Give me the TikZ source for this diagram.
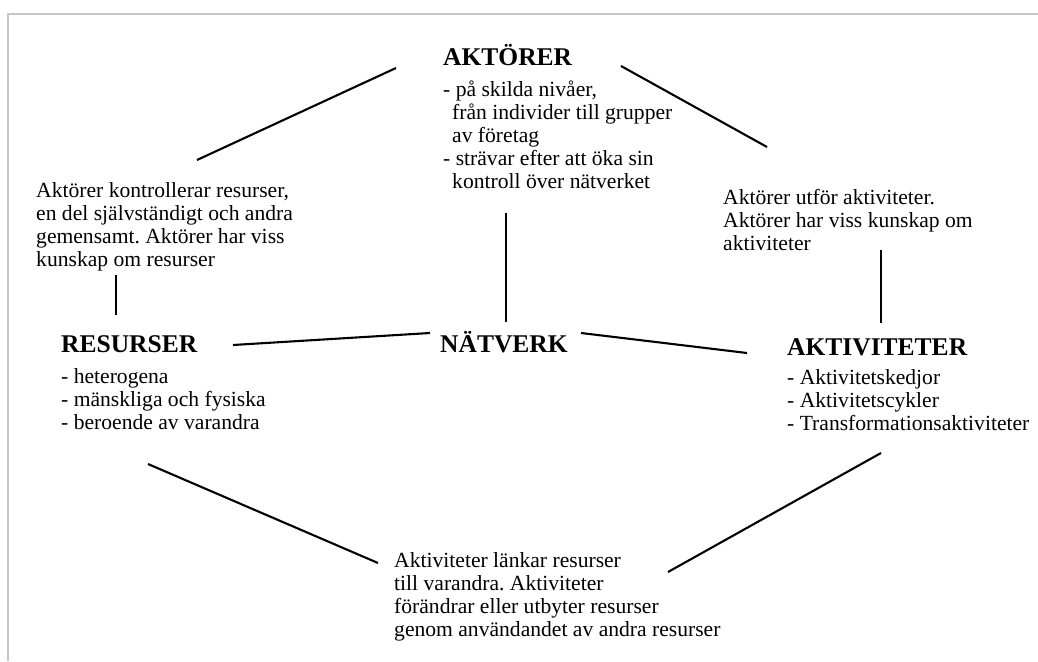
\documentclass[tikz,border=0pt]{standalone}
\usepackage{fontspec}
\setmainfont{Liberation Serif}
\usepackage{tikz}
\usetikzlibrary{calc}
\frenchspacing

\begin{document}
\begin{tikzpicture}[x=1pt,y=-1pt]
\useasboundingbox (0,0) rectangle (1038,661);
\draw[black!22, line width=1.5pt] (1038,14) -- (8,14) -- (8,661);

% nodes sit on the baseline of their last line
\begin{scope}[every node/.style={inner sep=0pt, anchor=base west, align=left,
                                 font=\fontsize{21.6}{23}\selectfont}]
  \node[font=\fontsize{25.5}{30}\selectfont\bfseries] (akt) at (443,66) {AKTÖRER};
  \node (aktl) at (443,188) {- på skilda nivåer,\\\hspace*{9pt}från individer till grupper\\\hspace*{9pt}av företag\\- strävar efter att öka sin\\\hspace*{9pt}kontroll över nätverket};
  \node (ar) at (36,266) {Aktörer kontrollerar resurser,\\en del självständigt och andra\\gemensamt. Aktörer har viss\\kunskap om resurser};
  \node (aa) at (723,250) {Aktörer utför aktiviteter.\\Aktörer har viss kunskap om\\aktiviteter};
  \node[font=\fontsize{25.5}{30}\selectfont\bfseries] (res) at (61,352) {RESURSER};
  \node (resl) at (61,429) {- heterogena\\- mänskliga och fysiska\\- beroende av varandra};
  \node[font=\fontsize{25.5}{30}\selectfont\bfseries] (nat) at (440,352) {NÄTVERK};
  \node[font=\fontsize{25.5}{30}\selectfont\bfseries] (act) at (787,355) {AKTIVITETER};
  \node (actl) at (787,430) {- Aktivitetskedjor\\- Aktivitetscykler\\- Transformationsaktiviteter};
  \node (ra) at (394,636) {Aktiviteter länkar resurser\\till varandra. Aktiviteter\\förändrar eller utbyter resurser\\genom användandet av andra resurser};
\end{scope}

\begin{scope}[line width=2.1pt]
  \draw ($(akt.base west)+(-47,2)$) -- ($(ar.base west)+(161,-106)$);
  \draw ($(akt.base west)+(178,0)$) -- ($(aa.base west)+(44,-103)$);
  \draw ($(ar.base west)+(80,9)$) -- ($(res.base west)+(55,-37)$);
  \draw ($(aktl.base west)+(63,25)$) -- ($(nat.base west)+(66,-30)$);
  \draw ($(aa.base west)+(158,0)$) -- ($(act.base west)+(94,-32)$);
  \draw ($(res.base west)+(172,-7)$) -- ($(nat.base west)+(-10,-19)$);
  \draw ($(nat.base west)+(141,-19)$) -- ($(act.base west)+(-40,-2)$);
  \draw ($(resl.base west)+(87,35)$) -- ($(ra.base west)+(-16,-73)$);
  \draw ($(actl.base west)+(94,23)$) -- ($(ra.base west)+(274,-64)$);
\end{scope}
\end{tikzpicture}
\end{document}
